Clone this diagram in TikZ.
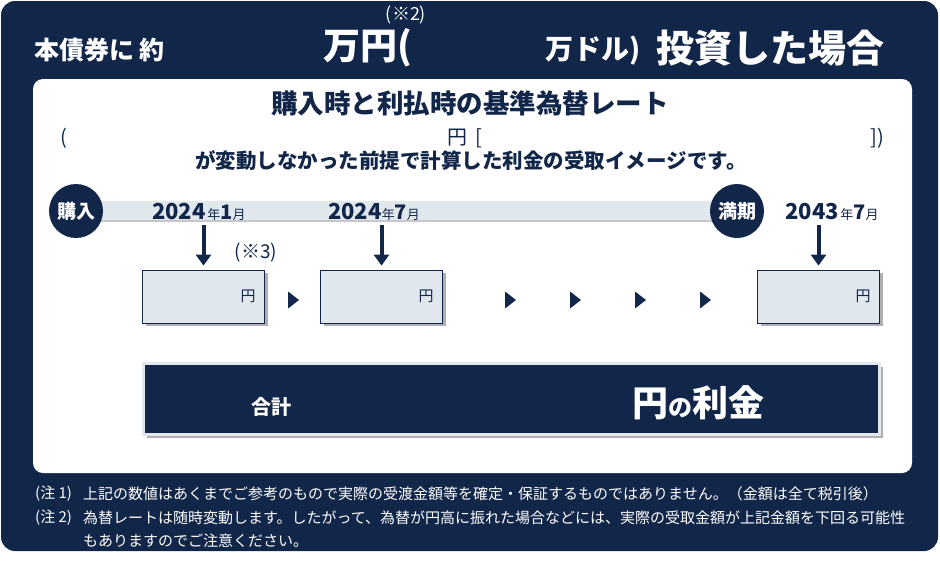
\documentclass[tikz,border=0pt]{standalone}
\usepackage{fontspec}
\setmainfont{Noto Sans CJK JP}
\newfontfamily\jp{Noto Sans CJK JP}
\usetikzlibrary{arrows.meta,shadows}
\definecolor{navy}{RGB}{17,38,73}
\definecolor{pale}{RGB}{225,232,237}
\definecolor{shad}{RGB}{175,175,175}
\newcommand{\fs}[1]{\fontsize{#1}{#1}\selectfont}
\tikzset{
  ttl/.style={anchor=west,inner sep=0pt,text=white},
  navytxt/.style={inner sep=0pt,text=navy},
  stage/.style={circle,fill=navy,minimum size=54pt,inner sep=0pt,text=white,font=\jp\bfseries\fs{19}},
  datetxt/.style={anchor=west,inner sep=0pt,text=navy},
  paybox/.style={draw=navy,line width=0.8pt,fill=pale,minimum height=53pt,text width=104pt,inner xsep=9pt,align=right,text=navy,font=\jp\fs{15},
     drop shadow={shadow xshift=3pt,shadow yshift=-3pt,fill=shad,opacity=1}},
  downarrow/.style={draw=navy,line width=4pt,-{Triangle[length=11pt,width=15pt]},shorten >=4pt},
  note/.style={anchor=west,inner sep=0pt,text=white,font=\jp\fs{15}},
}
\begin{document}
\begin{tikzpicture}[x=1pt,y=-1pt]
\useasboundingbox (0,0) rectangle (940,560);
% frames
\fill[navy,rounded corners=14pt] (1,1) rectangle (938,551);
\fill[white,rounded corners=10pt] (33,79) rectangle (912,473);
% title
\node[ttl,font=\jp\bfseries\fs{25}] (t1) at (34,50) {本債券に 約};
\node[ttl,font=\jp\bfseries\fs{37}] (t2) at (323,48) {万円(};
\node[inner sep=0pt,text=white,font=\jp\fs{18}] (t3) at (406,15) {(※2)};
\node[ttl,font=\jp\bfseries\fs{28}] (t4) at (545,51) {万ドル)};
\node[ttl,font=\jp\bfseries\fs{38}] (t5) at (656,48) {投資した場合};
% inner heading
\node[navytxt,font=\jp\bfseries\fs{26.5}] (h1) at (470,103) {購入時と利払時の基準為替レート};
\node[navytxt,anchor=west,font=\jp\fs{20}] (h2a) at (60,138) {(};
\node[navytxt,anchor=west,font=\jp\fs{20}] (h2b) at (447,138) {円\hspace{8pt}[};
\node[navytxt,anchor=east,font=\jp\fs{20}] (h2c) at (884,138) {])};
\node[navytxt,font=\jp\bfseries\fs{20.5}] (h3) at (471,161) {が変動しなかった前提で計算した利金の受取イメージです。};
% timeline
\fill[pale] (76,201) rectangle (737,220);
\fill[shad!70] (76,220) rectangle (737,222);
\node[stage] (buy) at (76,211) {購入};
\node[stage] (mat) at (737,211) {満期};
\node[datetxt] (d1) at (152,212) {{\jp\bfseries\fs{22}2024}\,{\jp\fs{13}年}{\jp\bfseries\fs{20}1}{\jp\fs{13}月}};
\node[datetxt] (d2) at (328,212) {{\jp\bfseries\fs{22}2024}{\jp\fs{13}年}{\jp\bfseries\fs{20}7}{\jp\fs{13}月}};
\node[datetxt] (d3) at (785,212) {{\jp\bfseries\fs{22}2043}\,{\jp\fs{13}年}{\jp\bfseries\fs{20}7}{\jp\fs{13}月}};
% payment boxes
\node[paybox] (b1) at (203.5,296.5) {円};
\node[paybox] (b2) at (381.5,296.5) {円};
\node[paybox] (b3) at (818.5,296.5) {円};
\coordinate (a1) at (203.5,225);
\coordinate (a2) at (381.5,225);
\coordinate (a3) at (818.5,225);
\draw[downarrow] (a1) -- (b1.north);
\draw[downarrow] (a2) -- (b2.north);
\draw[downarrow] (a3) -- (b3.north);
\node[navytxt,font=\jp\fs{19}] (n3) at (256,253) {(※3)};
\foreach \x in {293,510,575,640,705}{
  \fill[navy] (\x-5,291.5) -- (\x+6,300) -- (\x-5,308.5) -- cycle;
}
% total
\node[fill=navy,draw=pale,line width=3pt,minimum width=736pt,minimum height=71pt,inner sep=0pt,
      drop shadow={shadow xshift=3pt,shadow yshift=-3pt,fill=shad,opacity=1}] (tot) at (511.5,399) {};
\node[inner sep=0pt,text=white,font=\jp\bfseries\fs{20}] (sum) at (271,407) {合計};
\node[anchor=west,inner sep=0pt,text=white] (yen) at (632,403) {{\jp\bfseries\fs{36}円}{\jp\bfseries\fs{24}の}{\jp\bfseries\fs{36}利金}};
% notes
\node[note] (n1l) at (35,494) {(注 1)};
\node[note] (n1) at (83,494) {上記の数値はあくまでご参考のもので実際の受渡金額等を確定・保証するものではありません。（金額は全て税引後）};
\node[note] (n2l) at (35,518) {(注 2)};
\node[note] (n2) at (83,518) {為替レートは随時変動します。したがって、為替が円高に振れた場合などには、実際の受取金額が上記金額を下回る可能性};
\node[note] (n2b) at (83,541) {もありますのでご注意ください。};
\end{tikzpicture}
\end{document}
